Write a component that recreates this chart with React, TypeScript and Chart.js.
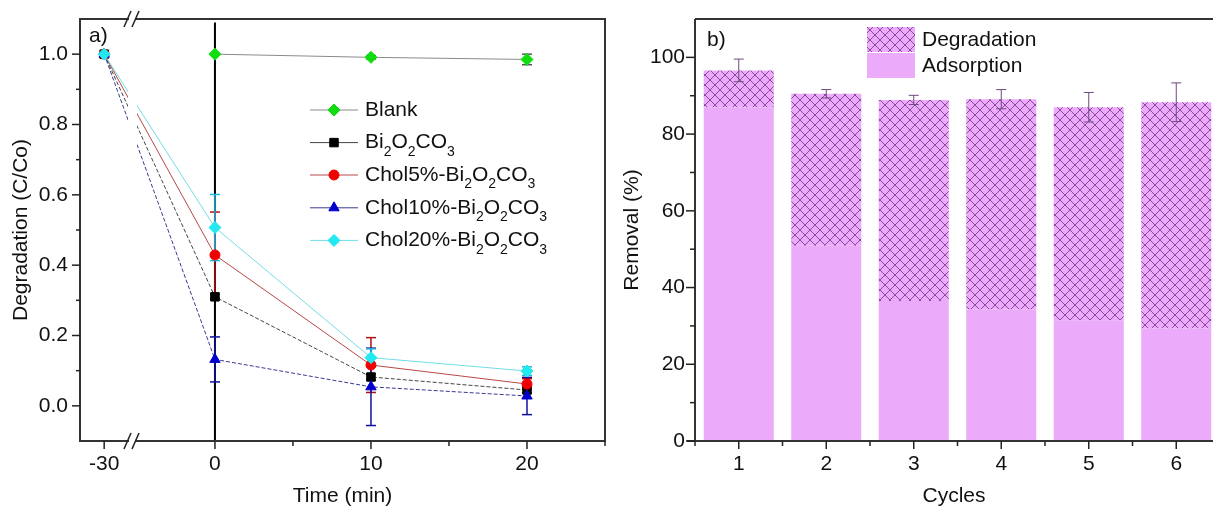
import React, { useEffect, useRef } from "react";
import { Chart, registerables } from "chart.js";
import { drawPoint } from "chart.js/helpers";
Chart.register(...registerables);

const FONT = "'Liberation Sans', Arial, Helvetica, sans-serif";
Chart.defaults.font.family = FONT;
Chart.defaults.color = "#111";

// ---------- Panel a) data ----------
const timePoints = [-30, 0, 10, 20];
const xTickLabelsA = [-30, 0, 10, 20];
const xMinorTicksA = [5, 15, 25];
const yTicksA = [0, 0.2, 0.4, 0.6, 0.8, 1.0];
const yMinorTicksA = [0.1, 0.3, 0.5, 0.7, 0.9];

const seriesNames = ["Blank", "Bi₂O₂CO₃", "Chol5%-Bi₂O₂CO₃", "Chol10%-Bi₂O₂CO₃", "Chol20%-Bi₂O₂CO₃"];
const blankValues = [null, 1.0, 0.991, 0.985];
const blankErrors = [0, 0, 0.005, 0.015];
const bi2o2co3Values = [1.0, 0.31, 0.082, 0.045];
const bi2o2co3Errors = [0, 0.008, 0.008, 0.008];
const chol5Values = [1.0, 0.429, 0.116, 0.062];
const chol5Errors = [0, 0.122, 0.078, 0.015];
const chol10Values = [1.0, 0.132, 0.054, 0.028];
const chol10Errors = [0, 0.064, 0.11, 0.053];
const chol20Values = [1.0, 0.507, 0.137, 0.099];
const chol20Errors = [0, 0.094, 0.025, 0.012];

// ---------- Panel b) data ----------
const cycles = [1, 2, 3, 4, 5, 6];
const adsorption = [86.9, 50.9, 36.5, 34.3, 31.5, 29.3];
const removalTotal = [96.6, 90.5, 88.9, 89.1, 87.0, 88.3];
const removalError = [2.95, 1.1, 1.2, 2.5, 3.85, 5.05];
const yTicksB = [0, 20, 40, 60, 80, 100];
const yMinorTicksB = [10, 30, 50, 70, 90];
const xMinorTicksB = [0.5, 1.5, 2.5, 3.5, 4.5, 5.5];
const legendB = ["Degradation", "Adsorption"];

// broken time axis: the -30 point is moved next to the break
const BREAK_SHIFT = 22.9;
const axisPos = (t: number) => (t < 0 ? t + BREAK_SHIFT : t);

const PINK = "rgb(235,170,250)";
const FS = 21;

const styleA = [
  { marker: "#10dd10", line: "#8a8a8a", err: "#555", shape: "rectRot", r: 6, dash: [] as number[] },
  { marker: "#000000", line: "#444444", err: "#222", shape: "rect", r: 6, dash: [4, 2] },
  { marker: "#ee0000", line: "#b84848", err: "#b01010", shape: "circle", r: 5, dash: [] },
  { marker: "#0000cc", line: "#3a3a90", err: "#1010a0", shape: "triangle", r: 6, dash: [4, 2] },
  { marker: "#22e8f0", line: "#70dde6", err: "#20b8e0", shape: "rectRot", r: 6, dash: [] },
];
const orderA = [5, 4, 3, 2, 1];

function drawRichText(ctx: CanvasRenderingContext2D, text: string, x: number, y: number, size: number) {
  const parts: { t: string; sub: boolean }[] = [];
  for (const ch of text) {
    const code = ch.charCodeAt(0);
    const sub = code >= 0x2080 && code <= 0x2089;
    const t = sub ? String(code - 0x2080) : ch;
    const last = parts[parts.length - 1];
    if (last && last.sub === sub) last.t += t;
    else parts.push({ t, sub });
  }
  ctx.textAlign = "left";
  ctx.textBaseline = "middle";
  let cx = x;
  for (const p of parts) {
    const fs = p.sub ? Math.round(size * 0.66) : size;
    ctx.font = `${fs}px ${FONT}`;
    ctx.fillText(p.t, cx, p.sub ? y + size * 0.45 : y);
    cx += ctx.measureText(p.t).width;
  }
}

function line(ctx: CanvasRenderingContext2D, x1: number, y1: number, x2: number, y2: number) {
  ctx.beginPath();
  ctx.moveTo(x1, y1);
  ctx.lineTo(x2, y2);
  ctx.stroke();
}

function makeHatch(): CanvasPattern | string {
  const s = 10;
  const c = document.createElement("canvas");
  c.width = s;
  c.height = s;
  const g = c.getContext("2d");
  if (!g) return PINK;
  g.fillStyle = PINK;
  g.fillRect(0, 0, s, s);
  g.strokeStyle = "rgba(110,40,130,0.75)";
  g.lineWidth = 1;
  g.beginPath();
  g.moveTo(-1, -1);
  g.lineTo(s + 1, s + 1);
  g.moveTo(s + 1, -1);
  g.lineTo(-1, s + 1);
  g.stroke();
  return g.createPattern(c, "repeat") || PINK;
}

const noScalePadding = (sc: any) => {
  sc.paddingTop = 0;
  sc.paddingBottom = 0;
  sc.paddingLeft = 0;
  sc.paddingRight = 0;
};

const panelAPlugin = {
  id: "panelA",
  beforeDatasetsDraw(chart: any) {
    const { ctx, chartArea: a, scales } = chart;
    const xs = scales.x, ys = scales.y;
    ctx.save();
    // vertical line at t = 0
    ctx.strokeStyle = "#000";
    ctx.lineWidth = 2;
    const x0 = xs.getPixelForValue(0);
    line(ctx, x0, ys.getPixelForValue(1.09), x0, a.bottom);
    // error bars
    chart.data.datasets.forEach((ds: any, k: number) => {
      ctx.strokeStyle = styleA[k].err;
      ctx.lineWidth = 1.5;
      ds.data.forEach((p: any, i: number) => {
        const e = ds.errors[i];
        if (p.y == null || !e) return;
        const px = xs.getPixelForValue(p.x);
        const yt = ys.getPixelForValue(p.y + e);
        const yb = ys.getPixelForValue(p.y - e);
        line(ctx, px, yt, px, yb);
        line(ctx, px - 5, yt, px + 5, yt);
        line(ctx, px - 5, yb, px + 5, yb);
      });
    });
    ctx.restore();
  },
  afterDatasetsDraw(chart: any) {
    const { ctx, chartArea: a, scales } = chart;
    const xs = scales.x, ys = scales.y;
    ctx.save();
    // axis break gap
    ctx.fillStyle = "#fff";
    ctx.fillRect(128, a.top + 2, 9, a.bottom - a.top - 4);
    // frame
    ctx.strokeStyle = "#333";
    ctx.lineWidth = 2;
    ctx.strokeRect(a.left, a.top, a.right - a.left, a.bottom - a.top);
    // ticks
    ctx.lineWidth = 1.5;
    ctx.strokeStyle = "#222";
    yTicksA.forEach((v) => { const y = ys.getPixelForValue(v); line(ctx, a.left - 8, y, a.left, y); });
    yMinorTicksA.forEach((v) => { const y = ys.getPixelForValue(v); line(ctx, a.left - 4, y, a.left, y); });
    xTickLabelsA.forEach((t) => { const x = xs.getPixelForValue(axisPos(t)); line(ctx, x, a.bottom, x, a.bottom + 8); });
    xMinorTicksA.forEach((t) => { const x = xs.getPixelForValue(t); line(ctx, x, a.bottom, x, a.bottom + 5); });
    // break marks
    [a.top, a.bottom].forEach((y) => {
      ctx.fillStyle = "#fff";
      ctx.fillRect(129, y - 2, 6, 4);
      ctx.strokeStyle = "#222";
      ctx.lineWidth = 1.5;
      line(ctx, 124, y + 8, 131, y - 8);
      line(ctx, 132, y + 8, 139, y - 8);
    });
    // legend
    const rows = [110, 142.6, 175, 207.8, 240.4];
    seriesNames.forEach((name, k) => {
      const st = styleA[k];
      const y = rows[k];
      ctx.strokeStyle = st.line;
      ctx.lineWidth = 1;
      ctx.setLineDash([]);
      line(ctx, 310, y, 358, y);
      ctx.fillStyle = st.marker;
      ctx.strokeStyle = st.marker;
      drawPoint(ctx, { pointStyle: st.shape as any, radius: st.r, borderWidth: 1, rotation: 0 } as any, 334, y);
      ctx.fillStyle = "#111";
      drawRichText(ctx, name, 365, y, FS);
    });
    // panel label
    ctx.fillStyle = "#111";
    ctx.font = `${FS}px ${FONT}`;
    ctx.textAlign = "left";
    ctx.textBaseline = "middle";
    ctx.fillText("a)", 89, 36);
    ctx.restore();
  },
};

export default function App() {
  const leftRef = useRef<HTMLCanvasElement>(null);
  const rightRef = useRef<HTMLCanvasElement>(null);

  useEffect(() => {
    const valuesA = [blankValues, bi2o2co3Values, chol5Values, chol10Values, chol20Values];
    const errorsA = [blankErrors, bi2o2co3Errors, chol5Errors, chol10Errors, chol20Errors];
    const datasetsA = seriesNames.map((name, k) => ({
      label: name,
      data: timePoints.map((t, i) => ({ x: axisPos(t), y: valuesA[k][i] })),
      errors: errorsA[k],
      borderColor: styleA[k].line,
      borderWidth: 1,
      borderDash: styleA[k].dash,
      backgroundColor: styleA[k].marker,
      pointBackgroundColor: styleA[k].marker,
      pointBorderColor: styleA[k].marker,
      pointBorderWidth: 1,
      pointStyle: styleA[k].shape,
      pointRadius: styleA[k].r,
      spanGaps: false,
      order: orderA[k],
    }));

    const left = new Chart(leftRef.current as HTMLCanvasElement, {
      type: "line",
      data: { datasets: datasetsA as any },
      options: {
        responsive: false,
        animation: false,
        devicePixelRatio: 1,
        layout: { padding: { top: 19, right: 15, left: 0, bottom: 0 } },
        plugins: { legend: { display: false }, tooltip: { enabled: false } },
        scales: {
          x: {
            type: "linear",
            min: -8.65,
            max: 25,
            grid: { display: false, drawTicks: false },
            border: { display: false },
            afterBuildTicks: (sc: any) => { sc.ticks = xTickLabelsA.map((t) => ({ value: axisPos(t) })); },
            afterFit: (sc: any) => { sc.height = 68; noScalePadding(sc); },
            ticks: { padding: 11, autoSkip: false, maxRotation: 0, font: { size: FS }, color: "#111",
              callback: (_v: any, i: number) => String(xTickLabelsA[i]) },
            title: { display: true, text: "Time (min)", font: { size: FS }, color: "#111", padding: { top: 0, bottom: 0 } },
          },
          y: {
            type: "linear",
            min: -0.1,
            max: 1.1,
            grid: { display: false, drawTicks: false },
            border: { display: false },
            afterBuildTicks: (sc: any) => { sc.ticks = yTicksA.map((v) => ({ value: v })); },
            afterFit: (sc: any) => { sc.width = 80; noScalePadding(sc); },
            ticks: { padding: 12, font: { size: FS }, color: "#111", callback: (v: any) => Number(v).toFixed(1) },
            title: { display: true, text: "Degradation (C/Co)", font: { size: FS }, color: "#111", padding: { top: 9, bottom: 0 } },
          },
        },
      },
      plugins: [panelAPlugin as any],
    });

    const hatch = makeHatch();
    const panelBPlugin = {
      id: "panelB",
      afterDatasetsDraw(chart: any) {
        const { ctx, chartArea: a, scales } = chart;
        const xs = scales.x, ys = scales.y;
        ctx.save();
        // error bars
        ctx.strokeStyle = "#6e4a7c";
        ctx.lineWidth = 1;
        cycles.forEach((c, i) => {
          const px = xs.getPixelForValue(c);
          const yt = ys.getPixelForValue(removalTotal[i] + removalError[i]);
          const yb = ys.getPixelForValue(removalTotal[i] - removalError[i]);
          line(ctx, px, yt, px, yb);
          line(ctx, px - 5, yt, px + 5, yt);
          line(ctx, px - 5, yb, px + 5, yb);
        });
        // frame
        ctx.strokeStyle = "#333";
        ctx.lineWidth = 2;
        line(ctx, a.left, a.top, a.right + 2, a.top);
        line(ctx, a.left, a.top, a.left, a.bottom);
        line(ctx, a.left - 8, a.bottom, a.right + 2, a.bottom);
        // ticks
        ctx.lineWidth = 1.5;
        ctx.strokeStyle = "#222";
        yTicksB.forEach((v) => { const y = ys.getPixelForValue(v); line(ctx, a.left - 9, y, a.left, y); });
        yMinorTicksB.forEach((v) => { const y = ys.getPixelForValue(v); line(ctx, a.left - 5, y, a.left, y); });
        cycles.forEach((v) => { const x = xs.getPixelForValue(v); line(ctx, x, a.bottom, x, a.bottom + 8); });
        xMinorTicksB.forEach((v) => { const x = xs.getPixelForValue(v); line(ctx, x, a.bottom, x, a.bottom + 5); });
        // legend
        const lx = 247;
        [hatch, PINK].forEach((fill, k) => {
          const y0 = 27 + k * 26;
          ctx.fillStyle = fill;
          ctx.fillRect(lx, y0, 48, 25);
          ctx.fillStyle = "#111";
          ctx.font = `${FS}px ${FONT}`;
          ctx.textAlign = "left";
          ctx.textBaseline = "middle";
          ctx.fillText(legendB[k], lx + 55, y0 + 13);
        });
        ctx.fillText("b)", 87, 40);
        ctx.restore();
      },
    };

    const right = new Chart(rightRef.current as HTMLCanvasElement, {
      type: "bar",
      data: {
        datasets: [
          {
            label: legendB[1],
            data: cycles.map((c, i) => ({ x: c, y: adsorption[i] })),
            backgroundColor: PINK,
            borderWidth: 0,
            stack: "s",
            barPercentage: 0.8,
            categoryPercentage: 1,
          },
          {
            label: legendB[0],
            data: cycles.map((c, i) => ({ x: c, y: removalTotal[i] - adsorption[i] })),
            backgroundColor: hatch as any,
            borderWidth: 0,
            stack: "s",
            barPercentage: 0.8,
            categoryPercentage: 1,
          },
        ],
      },
      options: {
        responsive: false,
        animation: false,
        devicePixelRatio: 1,
        layout: { padding: { top: 19, right: 0, left: 0, bottom: 0 } },
        plugins: { legend: { display: false }, tooltip: { enabled: false } },
        scales: {
          x: {
            type: "linear",
            stacked: true,
            offset: false,
            min: 0.5,
            max: 6.42,
            grid: { display: false, drawTicks: false },
            border: { display: false },
            afterBuildTicks: (sc: any) => { sc.ticks = cycles.map((v) => ({ value: v })); },
            afterFit: (sc: any) => { sc.height = 68; noScalePadding(sc); },
            ticks: { padding: 11, autoSkip: false, maxRotation: 0, font: { size: FS }, color: "#111",
              callback: (v: any) => String(v) },
            title: { display: true, text: "Cycles", font: { size: FS }, color: "#111", padding: { top: 0, bottom: 0 } },
          },
          y: {
            type: "linear",
            stacked: true,
            min: 0,
            max: 110,
            grid: { display: false, drawTicks: false },
            border: { display: false },
            afterBuildTicks: (sc: any) => { sc.ticks = yTicksB.map((v) => ({ value: v })); },
            afterFit: (sc: any) => { sc.width = 75; noScalePadding(sc); },
            ticks: { padding: 10, font: { size: FS }, color: "#111", callback: (v: any) => String(v) },
            title: { display: true, text: "Removal (%)", font: { size: FS }, color: "#111", padding: { top: 0, bottom: 0 } },
          },
        },
      },
      plugins: [panelBPlugin as any],
    });

    return () => {
      left.destroy();
      right.destroy();
    };
  }, []);

  return (
    <div style={{ position: "fixed", left: 0, top: 0, width: 1213, height: 509, background: "#fff", overflow: "hidden" }}>
      <canvas ref={leftRef} width={620} height={509} style={{ position: "absolute", left: 0, top: 0, width: 620, height: 509 }} />
      <canvas ref={rightRef} width={593} height={509} style={{ position: "absolute", left: 620, top: 0, width: 593, height: 509 }} />
    </div>
  );
}
